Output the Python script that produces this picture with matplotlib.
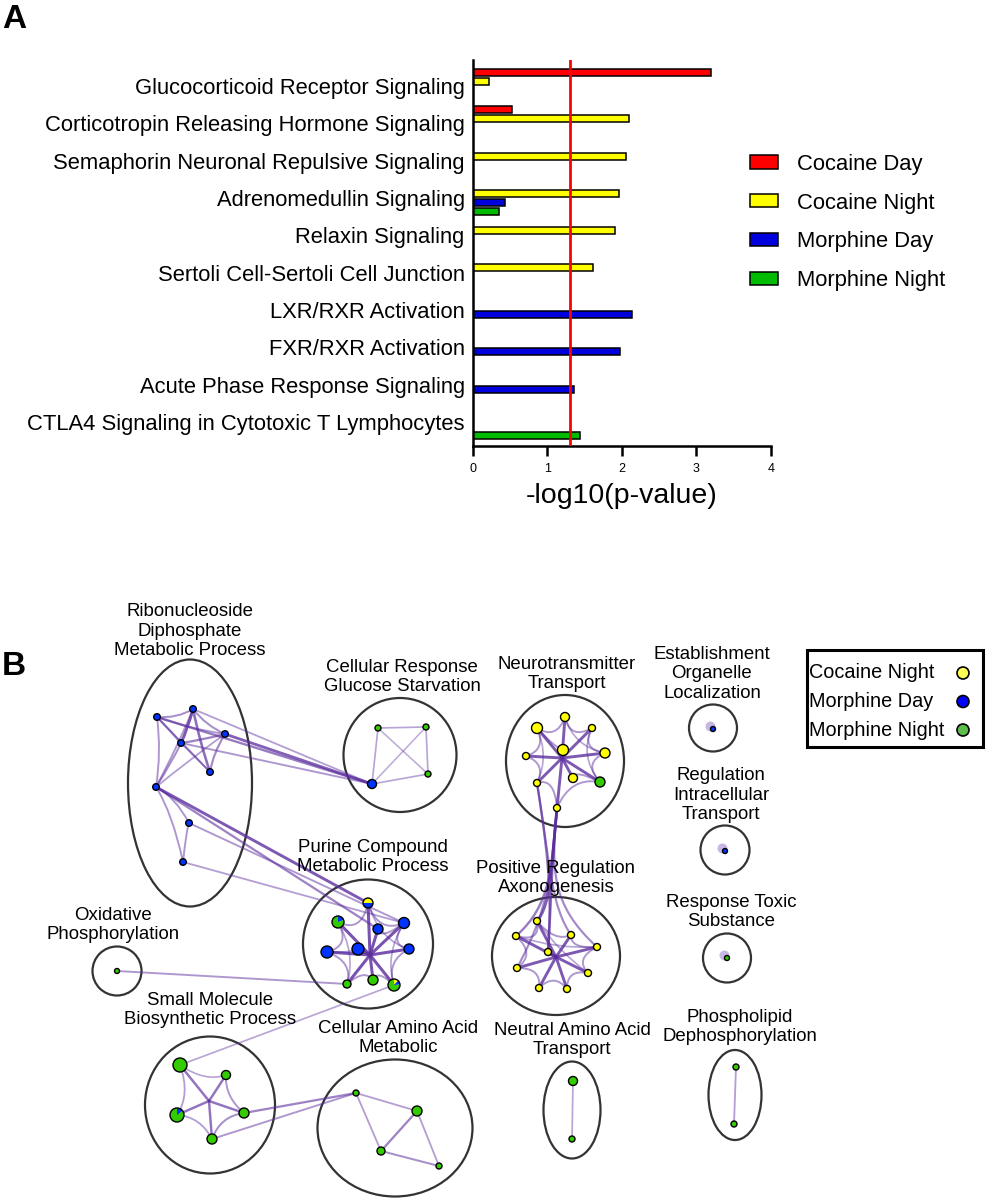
import matplotlib
matplotlib.use("Agg")
import matplotlib.pyplot as plt
import numpy as np
from matplotlib.patches import Ellipse, Circle, Wedge, PathPatch, Rectangle
from matplotlib.path import Path

plt.rcParams['font.family'] = ['Liberation Sans', 'DejaVu Sans']

# ---------------- panel A data ----------------
pathways = ['Glucocorticoid Receptor Signaling',
            'Corticotropin Releasing Hormone Signaling',
            'Semaphorin Neuronal Repulsive Signaling',
            'Adrenomedullin Signaling',
            'Relaxin Signaling',
            'Sertoli Cell-Sertoli Cell Junction',
            'LXR/RXR Activation',
            'FXR/RXR Activation',
            'Acute Phase Response Signaling',
            'CTLA4 Signaling in Cytotoxic T Lymphocytes']
series = ['Cocaine Day', 'Cocaine Night', 'Morphine Day', 'Morphine Night']
cocaine_day = [3.20, 0.52, 0, 0, 0, 0, 0, 0, 0, 0]
cocaine_night = [0.22, 2.09, 2.05, 1.96, 1.90, 1.61, 0, 0, 0, 0]
morphine_day = [0, 0, 0, 0.43, 0, 0, 2.14, 1.97, 1.36, 0]
morphine_night = [0, 0, 0, 0.35, 0, 0, 0, 0, 0, 1.44]
bar_colors = ['#ff0000', '#ffff00', '#0000dd', '#00bb00']
cutoff = -np.log10(0.05)

# ---------------- panel B data ----------------
# label, ellipse centre x/y, width, height, label centre x/y  (pixels)
clusters = [
    ('Ribonucleoside\nDiphosphate\nMetabolic Process', 190, 783, 124, 247, 190, 631),
    ('Cellular Response\nGlucose Starvation', 400, 755, 113, 114, 402, 677),
    ('Purine Compound\nMetabolic Process', 368, 944, 130, 129, 373, 857),
    ('Oxidative\nPhosphorylation', 117, 971, 49, 49, 113, 925),
    ('Small Molecule\nBiosynthetic Process', 210, 1105, 130, 137, 210, 1010),
    ('Cellular Amino Acid\nMetabolic', 395, 1128, 155, 137, 398, 1038),
    ('Neurotransmitter\nTransport', 565, 761, 118, 132, 567, 674),
    ('Positive Regulation\nAxonogenesis', 556, 956, 128, 118, 556, 878),
    ('Establishment\nOrganelle\nLocalization', 713, 728, 48, 47, 712, 674),
    ('Regulation\nIntracellular\nTransport', 725, 850, 49, 49, 721, 795),
    ('Response Toxic\nSubstance', 727, 958, 48, 49, 731, 912),
    ('Neutral Amino Acid\nTransport', 572, 1110, 57, 97, 572, 1040),
    ('Phospholipid\nDephosphorylation', 735, 1095, 53, 90, 740, 1027),
]

net_groups = ['Cocaine Night', 'Morphine Day', 'Morphine Night']
node_colors = ['#ffff00', '#0033ff', '#33cc00']
legend_colors = ['#ffff55', '#0000ff', '#5cbf4a']
Y, B, G = (1, 0, 0), (0, 1, 0), (0, 0, 1)

# node id: x, y, radius, share of (Cocaine Night, Morphine Day, Morphine Night)
nodes = {
    'r0': (157, 717, 3.3, B), 'r1': (193, 709, 3.3, B), 'r2': (225, 734, 3.3, B),
    'r3': (181, 743, 3.3, B), 'r4': (210, 772, 3.3, B), 'r5': (156, 787, 3.3, B),
    'r6': (189, 823, 3.3, B), 'r7': (183, 862, 3.3, B),
    'g0': (378, 728, 3, G), 'g1': (426, 727, 3, G), 'g2': (428, 774, 3, G),
    'g3': (372, 784, 4.5, B),
    'p0': (368, 903, 5, (.5, .5, 0)), 'p1': (338, 922, 6, (0, .2, .8)),
    'p2': (378, 929, 5, B), 'p3': (404, 923, 5.5, B), 'p4': (327, 952, 6, B),
    'p5': (358, 949, 6, B), 'p6': (409, 949, 5, B), 'p7': (347, 984, 4, G),
    'p8': (373, 980, 5, G), 'p9': (394, 985, 6, (.12, .12, .76)),
    'o0': (117, 971, 2.5, G),
    's0': (180, 1065, 7, G), 's1': (226, 1075, 4.5, G), 's2': (177, 1115, 7, (0, .15, .85)),
    's3': (244, 1113, 5, G), 's4': (212, 1139, 5, G),
    'c0': (356, 1093, 3, G), 'c1': (417, 1111, 5, G), 'c2': (381, 1151, 4, G),
    'c3': (439, 1166, 3, G),
    'n0': (565, 717, 4.5, Y), 'n1': (537, 728, 5.5, Y), 'n2': (592, 728, 3.5, Y),
    'n3': (563, 750, 5.5, Y), 'n4': (605, 753, 5, Y), 'n5': (526, 756, 3.5, Y),
    'n6': (573, 778, 4.5, Y), 'n7': (600, 782, 5, G), 'n8': (537, 783, 3.5, Y),
    'n9': (557, 808, 3.5, Y),
    'a0': (537, 921, 3.5, Y), 'a1': (516, 936, 3.5, Y), 'a2': (571, 935, 3.5, Y),
    'a3': (597, 947, 3.5, Y), 'a4': (548, 952, 3.5, Y), 'a5': (517, 968, 3.5, Y),
    'a6': (588, 973, 3.5, Y), 'a7': (539, 988, 3.5, Y), 'a8': (567, 989, 3.5, Y),
    'e0': (713, 729, 2.5, B), 't0': (725, 851, 2.5, B), 'x0': (727, 958, 2.5, G),
    'u0': (573, 1081, 4.5, G), 'u1': (572, 1139, 3, G),
    'l0': (736, 1067, 3, G), 'l1': (734, 1124, 3, G),
}
pie_start = {'p0': 180}
self_loops = ['e0', 't0', 'x0']

# bundling centres of the dense clusters, how strongly edges bend to them, spoke strength
hubs = {'r': (190, 750), 'p': (370, 955), 's': (209, 1101), 'n': (562, 758), 'a': (556, 957)}
bend = {'r': 0.15, 'p': 0.5, 's': 0.4, 'n': 0.5, 'a': 0.5}
spoke_strength = {'p': 0.8, 's': 0.55, 'n': 0.75, 'a': 0.75}

# similarity edges: node, node, strength 0..1
edges = [
    ('r0', 'r1', .35), ('r0', 'r2', .3), ('r0', 'r3', .4), ('r0', 'r4', .3), ('r1', 'r2', .35),
    ('r1', 'r3', .75), ('r1', 'r4', .6), ('r2', 'r3', .45), ('r2', 'r4', .4), ('r3', 'r4', .3),
    ('r0', 'r5', .3), ('r1', 'r5', .3), ('r3', 'r5', .35), ('r2', 'r5', .25),
    ('r5', 'r6', .3), ('r5', 'r7', .3), ('r6', 'r7', .3),
    ('g0', 'g1', .2), ('g0', 'g2', .15), ('g0', 'g3', .2), ('g1', 'g2', .2), ('g1', 'g3', .15),
    ('g2', 'g3', .2),
    ('p0', 'p3', .3), ('p3', 'p6', .3), ('p6', 'p9', .3), ('p9', 'p8', .3), ('p8', 'p7', .3),
    ('p7', 'p4', .3), ('p4', 'p1', .3), ('p1', 'p0', .3), ('p2', 'p3', .3), ('p5', 'p4', .3),
    ('p0', 'p6', .2), ('p1', 'p7', .2), ('p3', 'p9', .2),
    ('s0', 's1', .2), ('s1', 's3', .3), ('s3', 's4', .35), ('s4', 's2', .25), ('s2', 's0', .25),
    ('c0', 'c1', .25), ('c0', 'c2', .25), ('c1', 'c2', .45), ('c1', 'c3', .25), ('c2', 'c3', .35),
    ('n0', 'n1', .3), ('n0', 'n2', .3), ('n1', 'n5', .3), ('n2', 'n4', .3), ('n4', 'n7', .3),
    ('n7', 'n6', .3), ('n5', 'n8', .3), ('n8', 'n9', .3), ('n9', 'n7', .3), ('n1', 'n3', .3),
    ('n0', 'n4', .2), ('n1', 'n8', .2), ('n2', 'n7', .2),
    ('a0', 'a1', .3), ('a0', 'a2', .3), ('a2', 'a3', .3), ('a3', 'a6', .3), ('a6', 'a8', .3),
    ('a8', 'a7', .3), ('a7', 'a5', .3), ('a5', 'a1', .3), ('a1', 'a3', .2), ('a0', 'a6', .2),
    ('u0', 'u1', .2), ('l0', 'l1', .25),
    # between clusters
    ('g3', 'r2', .7), ('g3', 'r0', .5), ('g3', 'r3', .3), ('g3', 'r1', .25),
    ('r5', 'p0', .75), ('r5', 'p2', .45), ('r6', 'p3', .3), ('r7', 'p3', .25),
    ('o0', 'p7', .3), ('s0', 'p9', .2), ('s3', 'c0', .45), ('s4', 'c0', .3),
    ('n9', 'a0', .7), ('n9', 'a1', .5), ('n8', 'a4', .5), ('n9', 'a4', .6),
    ('n8', 'a2', .4), ('n9', 'a3', .4), ('n9', 'a5', .4),
]
# edge bundles between clusters: two control points
bundles = {('n', 'a'): ((551, 870), (551, 905))}

edge_rgb = '#5b2d9e'


def edge_kw(s):
    return dict(alpha=0.3 + 0.65 * s, lw=0.9 + 1.6 * s)


fig = plt.figure(figsize=(9.87, 12), dpi=100)

# ================= panel A =================
ax = fig.add_axes([473 / 987, 1 - 446 / 1200, 298 / 987, 386 / 1200])
values = [cocaine_day, cocaine_night, morphine_day, morphine_night]
for k, (vals, col, name) in enumerate(zip(values, bar_colors, series)):
    ypos = np.arange(len(pathways)) * 4 + k
    v = np.array(vals, dtype=float)
    keep = v > 0
    ax.barh(ypos[keep], v[keep], height=0.75, color=col, edgecolor='black',
            linewidth=1.1, label=name, zorder=2)
ax.axvline(cutoff, color='#ff0000', lw=2, zorder=3)
ax.set_xlim(0, 4)
ax.set_ylim(40.08, -1.29)
ax.set_yticks(np.arange(len(pathways)) * 4 + 1.5)
ax.set_yticklabels(pathways, fontsize=15.8)
ax.set_xticks([0, 1, 2, 3, 4])
ax.tick_params(axis='y', length=0, pad=6)
ax.tick_params(axis='x', length=7, width=1.8, labelsize=9, pad=5)
for s in ['top', 'right']:
    ax.spines[s].set_visible(False)
for s in ['left', 'bottom']:
    ax.spines[s].set_linewidth(1.8)
ax.set_xlabel('-log10(p-value)', fontsize=20.5)
ax.xaxis.set_label_coords(0.5, -0.095)
ax.legend(loc='center left', bbox_to_anchor=(750 / 987, 1 - 222.5 / 1200),
          bbox_transform=fig.transFigure, frameon=False, fontsize=15.8,
          handlelength=1.28, handleheight=0.55, handletextpad=0.87,
          labelspacing=0.81, borderpad=0, borderaxespad=0)

fig.text(0.002, 1 - 20 / 1200, 'A', fontsize=24, fontweight='bold', va='center')
fig.text(0.002, 1 - 666 / 1200, 'B', fontsize=24, fontweight='bold', va='center')

# ================= panel B =================
axb = fig.add_axes([0, 0, 1, 640 / 1200])
axb.set_xlim(0, 987)
axb.set_ylim(1200, 560)
axb.axis('off')

for lab, cx, cy, w, h, lx, ly in clusters:
    axb.add_patch(Ellipse((cx, cy), w, h, fill=False, ec='#333333', lw=1.6, zorder=1))
    axb.text(lx, ly, lab, ha='center', va='center', fontsize=13.4, linespacing=1.2, zorder=6)


def pt(nid):
    return np.array(nodes[nid][:2], dtype=float)


def draw_path(verts, codes, s):
    axb.add_patch(PathPatch(Path(verts, codes), fill=False, ec=edge_rgb, capstyle='round',
                            zorder=2, **edge_kw(s)))


for a, b, s in edges:
    p, q = pt(a), pt(b)
    ka, kb = a[0], b[0]
    if ka == kb and ka in hubs:
        mid = (p + q) / 2
        ctrl = mid + bend[ka] * (np.array(hubs[ka]) - mid)
        draw_path([p, ctrl, q], [Path.MOVETO, Path.CURVE3, Path.CURVE3], s)
    elif (ka, kb) in bundles:
        c1, c2 = bundles[(ka, kb)]
        draw_path([p, c1, c2, q], [Path.MOVETO, Path.CURVE4, Path.CURVE4, Path.CURVE4], s)
    else:
        axb.plot([p[0], q[0]], [p[1], q[1]], color=edge_rgb, solid_capstyle='round',
                 zorder=2, **edge_kw(s))

# spokes to the cluster centres
for key, s in spoke_strength.items():
    hx, hy = hubs[key]
    for nid in nodes:
        if nid[0] == key:
            x, y = nodes[nid][:2]
            axb.plot([x, hx], [y, hy], color=edge_rgb, solid_capstyle='round', zorder=2,
                     **edge_kw(s))

for nid in self_loops:
    x, y = nodes[nid][:2]
    axb.add_patch(Circle((x - 2.5, y - 2.5), 5, color='#b9a6dc', alpha=0.8, lw=0, zorder=2))

# nodes as small pies
for nid, (x, y, r, share) in nodes.items():
    start = pie_start.get(nid, 90)
    cum = 0.0
    for f, col in zip(share, node_colors):
        if f > 0:
            t1 = -start + cum * 360
            t2 = -start + (cum + f) * 360
            axb.add_patch(Wedge((x, y), r, t1, t2, fc=col, ec='none', zorder=3))
            cum += f
    axb.add_patch(Circle((x, y), r, fill=False, ec='black', lw=1.0, zorder=4))

# legend of panel B
axb.add_patch(Rectangle((807, 650), 176, 97, fill=False, ec='black', lw=2.2, zorder=5))
for i, (name, col) in enumerate(zip(net_groups, legend_colors)):
    yy = 673 + i * 28.5
    axb.text(809, yy, name, fontsize=14.3, va='center', ha='left', zorder=6)
    axb.add_patch(Circle((963, yy), 6, fc=col, ec='black', lw=1.2, zorder=6))

fig.savefig('out.png', dpi=100)
